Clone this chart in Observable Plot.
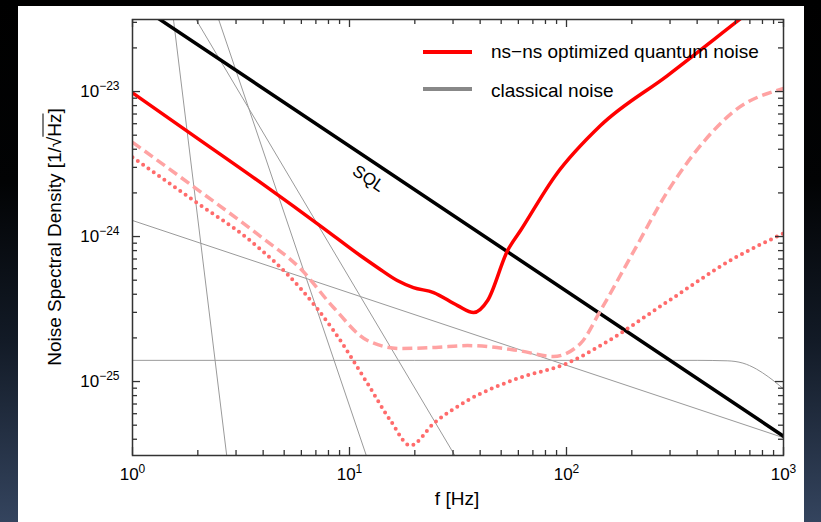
<!DOCTYPE html>
<html><head><meta charset="utf-8">
<script src="https://cdn.jsdelivr.net/npm/d3@7"></script>
<script src="https://cdn.jsdelivr.net/npm/@observablehq/plot@0.6"></script>
<style>
html,body{margin:0;padding:0;}
body{width:821px;height:522px;overflow:hidden;position:relative;
  background:linear-gradient(to bottom,#000 0%,#020304 35%,#121a26 65%,#34445e 100%);
  font-family:"Liberation Sans",Arial,Helvetica,sans-serif;color:#000;}
#panel{position:absolute;left:18px;top:6px;width:786px;height:516px;background:#fff;}
#chart{position:absolute;left:0;top:0;}
.sw{position:absolute;height:3.5px;width:49px;left:405px;}
.lt{position:absolute;left:473px;font-size:19px;line-height:19px;white-space:nowrap;}
#ytitle{position:absolute;left:36.4px;top:231px;transform:translate(-50%,-50%) rotate(-90deg);font-size:19px;line-height:19px;white-space:nowrap;}
#xtitle{position:absolute;left:439px;top:483px;transform:translateX(-50%);font-size:19px;line-height:19px;white-space:nowrap;}
</style></head>
<body>
<div id="panel">
  <div id="chart"></div>
  <div class="sw" style="top:44.25px;background:#ff0000"></div>
  <div class="lt" style="top:36px">ns−ns optimized quantum noise</div>
  <div class="sw" style="top:81.25px;background:#888"></div>
  <div class="lt" style="top:75px">classical noise</div>
  <div id="ytitle">Noise Spectral Density [1/√<span style="text-decoration:overline">Hz</span>]</div>
  <div id="xtitle">f [Hz]</div>
</div>
<script>
// ---- data ----
const sqlF   = [1, 1000];
const sqlAsd = [4.2e-23, 4.2e-26];

const quantumF   = [1, 2, 4, 7.6, 11.2, 13.5, 16.6, 19.7, 24.4, 31.5, 37.3, 43.3, 53.5, 61.4, 89, 143.5, 292, 634, 1000];
const quantumAsd = [9.8e-24, 4.74e-24, 2.29e-24, 1.14e-24, 7.4e-25, 6.1e-25, 4.98e-25, 4.45e-25, 4.11e-25, 3.34e-25, 2.99e-25, 3.62e-25, 8.0e-25, 1.1e-24, 2.64e-24, 5.83e-24, 1.29e-23, 3.18e-23, 5.4e-23];

const dashedF   = [1, 2, 4, 5.95, 8.44, 12.1, 17.2, 25, 35, 59.5, 87, 116, 143.5, 204, 292, 415, 589, 1000];
const dashedAsd = [4.47e-24, 2.1e-24, 9.7e-25, 6.0e-25, 3.24e-25, 1.92e-25, 1.69e-25, 1.72e-25, 1.77e-25, 1.64e-25, 1.49e-25, 1.83e-25, 3.09e-25, 7.9e-25, 2.04e-24, 4.25e-24, 7.28e-24, 1.05e-23];

const dottedF   = [1, 2, 3.39, 5.95, 8.44, 12.1, 15.45, 19.1, 24.4, 35, 59.5, 100, 143.5, 292, 589, 1000];
const dottedAsd = [3.52e-24, 1.69e-24, 9.7e-25, 4.38e-25, 2.25e-25, 9.7e-26, 5.38e-26, 3.62e-26, 5.13e-26, 7.4e-26, 1.05e-25, 1.33e-25, 1.77e-25, 3.56e-25, 7.05e-25, 1.05e-24];

// classical noise curves
const seismicF = [1.41, 2.82],  seismicAsd = [9.6e-23, 1.96e-26];
const gravF    = [2.3, 13],     gravAsd    = [4.5e-23, 2.13e-26];
const steepF   = [1.8, 33],     steepAsd   = [3.9e-23, 2.55e-26];
const suspF    = [1, 1000],     suspAsd    = [1.29e-24, 4.1e-26];
const coatF    = [1, 400, 550, 650, 750, 850, 1000];
const coatAsd  = [1.4e-25, 1.4e-25, 1.39e-25, 1.34e-25, 1.22e-25, 1.08e-25, 8.9e-26];

const sqlLabel = [{f: 12.24, asd: 2.51e-24, text: "SQL"}];

const xMajor = [1, 10, 100, 1000];
const yMajor = [1e-25, 1e-24, 1e-23];

// ---- helpers ----
const zip = (F, A) => F.map((f, i) => ({f, asd: A[i]}));
const xMinor = [];
for (const d of [1, 10, 100]) for (let k = 2; k <= 9; k++) xMinor.push(k * d);
const yMinor = [];
for (const d of [1e-26, 1e-25, 1e-24, 1e-23]) for (let k = 2; k <= 9; k++) {
  const v = k * d; if (v >= 3.09e-26 && v <= 3.14e-23) yMinor.push(v);
}
const supMap = {"-":"⁻","0":"⁰","1":"¹","2":"²","3":"³","4":"⁴","5":"⁵","6":"⁶","7":"⁷","8":"⁸","9":"⁹"};
const fmt = v => "10" + String(Math.round(Math.log10(v))).split("").map(c => supMap[c]).join("");

const W = 786, H = 516, ML = 114, MR = 21, MT = 13, MB = 67;
const PW = W - ML - MR, PH = H - MT - MB;   // frame size
const MAJ = 8, MIN = 5;
const gray = {stroke: "#9a9a9a", strokeWidth: 1, clip: true};
const tk = {stroke: "#333", strokeWidth: 1.3};

const svg = Plot.plot({
  width: W, height: H,
  marginLeft: ML, marginRight: MR, marginTop: MT, marginBottom: MB,
  x: {type: "log", domain: [1, 1000], label: null},
  y: {type: "log", domain: [3.09e-26, 3.14e-23], label: null},
  style: {background: "transparent", fontFamily: "Liberation Sans, Arial, sans-serif", fontSize: "17px", color: "#000"},
  marks: [
    Plot.line(zip(seismicF, seismicAsd), {x: "f", y: "asd", ...gray}),
    Plot.line(zip(gravF, gravAsd), {x: "f", y: "asd", ...gray}),
    Plot.line(zip(steepF, steepAsd), {x: "f", y: "asd", ...gray}),
    Plot.line(zip(suspF, suspAsd), {x: "f", y: "asd", ...gray}),
    Plot.line(zip(coatF, coatAsd), {x: "f", y: "asd", ...gray, curve: "monotone-x"}),
    Plot.line(zip(sqlF, sqlAsd), {x: "f", y: "asd", stroke: "#000", strokeWidth: 3.5, clip: true}),
    Plot.line(zip(dottedF, dottedAsd), {x: "f", y: "asd", stroke: "#ff6b6b", strokeWidth: 4, strokeDasharray: "0,6.5", strokeLinecap: "round", curve: "monotone-x", clip: true}),
    Plot.line(zip(dashedF, dashedAsd), {x: "f", y: "asd", stroke: "#ffa3a3", strokeWidth: 3.5, strokeDasharray: "10,5", strokeLinecap: "butt", curve: "monotone-x", clip: true}),
    Plot.line(zip(quantumF, quantumAsd), {x: "f", y: "asd", stroke: "#ff0000", strokeWidth: 3.5, curve: "monotone-x", clip: true}),
    Plot.text(sqlLabel, {x: "f", y: "asd", text: "text", rotate: 33.7, fontSize: 17, fill: "#000"}),
    // inward tick marks on all four sides
    Plot.tickX(xMajor, {x: d => d, insetTop: PH - MAJ, ...tk}),
    Plot.tickX(xMinor, {x: d => d, insetTop: PH - MIN, ...tk}),
    Plot.tickX(xMajor, {x: d => d, insetBottom: PH - MAJ, ...tk}),
    Plot.tickX(xMinor, {x: d => d, insetBottom: PH - MIN, ...tk}),
    Plot.tickY(yMajor, {y: d => d, insetRight: PW - MAJ, ...tk}),
    Plot.tickY(yMinor, {y: d => d, insetRight: PW - MIN, ...tk}),
    Plot.tickY(yMajor, {y: d => d, insetLeft: PW - MAJ, ...tk}),
    Plot.tickY(yMinor, {y: d => d, insetLeft: PW - MIN, ...tk}),
    // tick labels
    Plot.axisX(xMajor, {anchor: "bottom", tickSize: 0, tickPadding: 12, tickFormat: fmt, fontSize: 17, label: null}),
    Plot.axisY(yMajor, {anchor: "left", tickSize: 0, tickPadding: 13, tickFormat: fmt, fontSize: 17, label: null}),
    Plot.frame({stroke: "#333", strokeWidth: 1.5})
  ]
});
document.getElementById("chart").appendChild(svg);

// render exponents as raised text
const unSup = Object.fromEntries(Object.entries(supMap).map(([k, v]) => [v, k === "-" ? "−" : k]));
d3.select(svg).selectAll("text").each(function() {
  const t = this.textContent;
  const m = t.match(/^10([⁻⁰¹²³⁴⁵⁶⁷⁸⁹]+)$/);
  if (!m) return;
  this.textContent = "10";
  const ts = document.createElementNS("http://www.w3.org/2000/svg", "tspan");
  ts.setAttribute("dy", "-7");
  ts.setAttribute("font-size", "12");
  ts.textContent = m[1].split("").map(c => unSup[c]).join("");
  this.appendChild(ts);
});
</script>
</body></html>
